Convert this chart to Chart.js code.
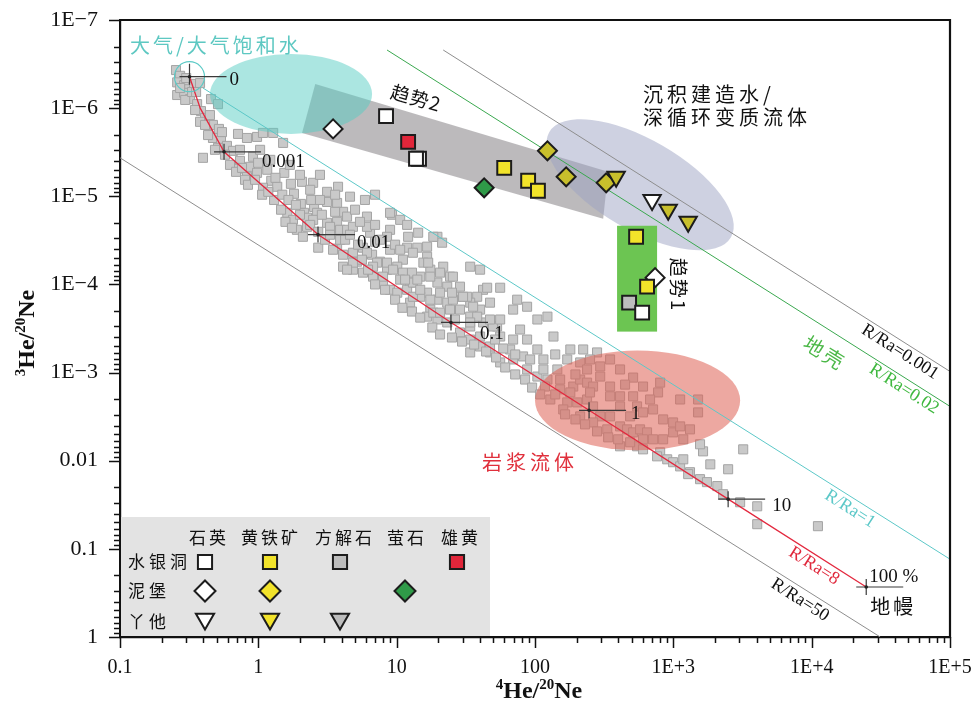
<!DOCTYPE html>
<html><head><meta charset="utf-8">
<script src="https://cdn.jsdelivr.net/npm/chart.js@4.4.0/dist/chart.umd.min.js"></script>
<style>html,body{margin:0;padding:0;background:#fff;}#wrap{width:974px;height:708px;}</style>
</head><body><div id="wrap"><canvas id="c" width="974" height="708"></canvas></div>
<script>
// ---------- DATA ----------
const xTickLabels = ['0.1','1','10','100','1E+3','1E+4','1E+5'];
const yTickLabels = ['1E\u22127','1E\u22126','1E\u22125','1E\u22124','1E\u22123','0.01','0.1','1'];

// gray squares: published fluid data [4He/20Ne, 3He/20Ne]
const graySamples = [
[0.254,3.7e-7],[0.272,4.3e-7],[0.259,5.1e-7],[0.291,5.5e-7],[0.316,6.1e-7],[0.343,5.3e-7],[0.379,5.2e-7],[0.259,7.1e-7],[0.291,6.7e-7],[0.321,7.9e-7],
[0.361,9.0e-7],[0.385,1.08e-6],[0.412,1.29e-6],[0.379,1.43e-6],[0.455,7.9e-7],[0.511,9.0e-7],[0.47,1.55e-6],[0.519,1.72e-6],[0.47,2.18e-6],[0.537,2.35e-6],
[0.398,3.66e-6],[0.511,2.82e-6],[0.593,2.68e-6],[0.656,3.05e-6],[0.713,1.96e-6],[0.828,2.18e-6],[0.979,2.12e-6],[1.08,1.91e-6],[1.28,1.91e-6],[1.51,2.48e-6],
[0.737,3.96e-6],[0.915,3.56e-6],[0.871,4.63e-6],[0.828,6.0e-6],[0.979,5.42e-6],[1.16,5.0e-6],[1.24,6.67e-6],[1.08,8.0e-6],[1.37,7.8e-6],[1.30,1.10e-5],
[1.54,5.42e-6],[1.72,7.22e-6],[1.81,9.37e-6],[2.03,1.22e-5],[1.62,1.54e-5],[1.46,1.42e-5],[2.14,1.54e-5],[2.53,1.32e-5],[2.41,1.10e-5],[0.546,1.87e-6],
[0.701,4.88e-6],[0.801,6.5e-6],[0.996,4.17e-6],[2.07,6.85e-6],[2.49,7.03e-6],[3.14,8.9e-6],[3.77,7.8e-6],[4.60,1.01e-5],[5.90,1.10e-5],[6.98,9.6e-6],
[3.14,1.16e-5],[3.71,1.19e-5],[4.10,1.50e-5],[2.66,1.54e-5],[2.25,1.75e-5],[1.90,2.40e-5],[2.25,2.22e-5],[3.14,2.0e-5],[3.71,1.95e-5],[3.90,2.40e-5],
[4.38,1.70e-5],[2.71,3.83e-5],[3.71,3.93e-5],[4.10,4.6e-5],[4.83,4.37e-5],[5.71,3.83e-5],[6.42,2.59e-5],[6.98,3.28e-5],[6.64,4.6e-5],[7.58,5.52e-5],
[9.26,1.62e-5],[10.6,1.85e-5],[11.9,2.11e-5],[8.96,2.40e-5],[12.1,2.88e-5],[14.3,2.59e-5],[11.9,3.83e-5],[14.1,3.83e-5],[16.6,4.85e-5],[19.7,2.88e-5],
[21.3,3.36e-5],[21.7,6.29e-5],[24.3,8.16e-5],[28.7,1.06e-4],[34.0,6.29e-5],[42.1,1.15e-4],[38.2,1.38e-4],[27.3,1.38e-4],[23.2,1.06e-4],[19.7,9.53e-5],
[17.5,6.8e-5],[15.6,5.66e-5],[11.1,5.24e-5],[10.1,6.29e-5],[8.52,6.8e-5],[7.97,9.53e-5],[11.1,7.35e-5],[12.5,9.53e-5],[14.8,8.16e-5],[16.6,1.24e-4],
[19.7,1.49e-4],[23.2,1.61e-4],[28.7,1.93e-4],[34.0,1.61e-4],[40.1,1.93e-4],[17.5,1.93e-4],[16.6,2.32e-4],[19.7,2.5e-4],[23.2,2.7e-4],[4.10,6.29e-5],
[4.83,6.8e-5],[5.71,7.35e-5],[6.75,8.16e-5],[7.22,5.66e-5],[5.17,5.52e-5],[34.0,2.32e-4],[42.1,2.7e-4],[12.5,1.61e-4],[14.8,1.38e-4],[1.78,1.85e-5],
[2.10,2.88e-5],[2.49,1.85e-5],[3.30,2.22e-5],[4.38,2.40e-5],[4.83,2.22e-5],[3.90,3.11e-5],[3.47,4.04e-5],[4.83,5.66e-5],[4.38,6.8e-5],[6.10,4.37e-5],
[8.52,5.66e-5],[6.75,6.29e-5],[7.97,8.16e-5],[9.42,6.8e-5],[10.6,8.82e-5],[8.96,1.15e-4],[10.1,1.24e-4],[11.9,1.15e-4],[13.1,9.53e-5],[17.5,1.49e-4],
[18.4,2.09e-4],[25.5,1.49e-4],[32.3,1.38e-4],[35.7,1.79e-4],[38.2,2.32e-4],[34.0,3.0e-4],[28.7,3.51e-4],[34.0,4.22e-4],[40.1,5.06e-4],[47.3,5.91e-4],
[56.0,7.67e-4],[34.0,5.91e-4],[66.1,5.47e-4],[69.5,4.22e-4],[56.0,3.9e-4],[53.2,3.0e-4],[45.1,1.09e-4],[56.0,1.09e-4],[25.5,8.16e-5],[8.96,1.54e-5],
[18.4,2.88e-5],[16.6,3.73e-5],[13.1,4.37e-5],[8.96,4.04e-5],[8.52,2.88e-5],[6.10,2.22e-5],[6.10,1.70e-5],[12.9,7.35e-5],[14.1,8.82e-5],[17.5,8.16e-5],
[20.6,7.35e-5],[16.9,5.66e-5],[40.1,6.8e-5],[20.6,1.24e-4],[25.1,1.24e-4],[30.2,1.38e-4],[13.1,1.38e-4],[20.6,2.09e-4],[47.3,1.61e-4],[34.0,2.7e-4],
[40.1,3.9e-4],[49.7,3.0e-4],[69.5,1.93e-4],[74.3,1.49e-4],[87.7,1.79e-4],[104,2.5e-4],[123,2.32e-4],[136,3.9e-4],[87.7,4.22e-4],[58.9,5.33e-4],
[47.3,5.06e-4],[69.5,7.1e-4],[82.0,6.56e-4],[104,5.47e-4],[115,7.1e-4],[87.7,9.22e-4],[104,1.11e-3],[123,1.2e-3],[145,9.22e-4],[171,7.1e-4],
[180,5.47e-4],[212,7.67e-4],[238,9.22e-4],[152,1.55e-3],[189,1.44e-3],[212,1.2e-3],[238,1.3e-3],[129,2.02e-3],[171,2.18e-3],[202,2.18e-3],
[238,2.02e-3],[263,2.42e-3],[296,3.14e-3],[349,3.14e-3],[412,4.08e-3],[463,4.41e-3],[512,4.77e-3],[575,4.41e-3],[646,4.77e-3],[714,5.72e-3],
[547,6.86e-3],[604,7.43e-3],[803,8.03e-3],[903,9.64e-3],[996,1.04e-2],[1120,1.16e-2],[1320,1.35e-2],[1560,1.62e-2],[1750,1.75e-2],[2080,1.94e-2],
[263,1.44e-3],[296,1.11e-3],[349,1.44e-3],[412,1.86e-3],[512,1.86e-3],[547,2.42e-3],[714,2.62e-3],[844,3.4e-3],[996,3.68e-3],[996,4.77e-3],
[1180,5.72e-3],[803,1.3e-3],[776,1.68e-3],[1120,2.02e-3],[1510,2.02e-3],[1510,2.83e-3],[296,8.52e-4],[412,9.22e-4],[512,1.14e-3],[604,1.44e-3],
[281,5.91e-4],[223,5.47e-4],[412,6.86e-3],[487,6.18e-3],[1640,7.83e-3],[3200,7.43e-3],[2490,1.25e-2],[115,9.22e-4],[118,1.44e-3],[180,1.68e-3],
[250,1.68e-3],[349,1.86e-3],[412,2.42e-3],[487,3.14e-3],[604,2.83e-3],[1120,4.08e-3],[844,5.72e-3],[160,2.62e-3],[212,3.14e-3],[263,3.68e-3],
[333,4.41e-3],[604,5.72e-3],[763,8.92e-3],[1180,9.64e-3],[2290,2.4e-2],[3040,2.96e-2],[4040,3.29e-2],[4040,5.25e-2],[11100,5.53e-2],[1280,1.42e-2],
[0.624,4.4e-6],[0.69,5.28e-6],[0.762,4.76e-6],[0.842,7.4e-6],[0.947,6.5e-6],[1.065,9.6e-6],[1.18,8.9e-6],[1.33,6.17e-6],[1.49,9.6e-6],[1.65,1.10e-5],
[1.87,1.25e-5],[2.0,1.62e-5],[1.57,1.95e-5],[1.75,2.28e-5],[2.37,2.11e-5],[2.71,2.53e-5],[3.03,3.11e-5],[3.30,2.73e-5],[2.88,1.62e-5],[3.59,1.50e-5],
[4.24,3.11e-5],[4.6,2.73e-5],[5.26,3.54e-5],[5.61,5.24e-5],[6.21,6.8e-5],[6.98,1.0e-4],[8.24,1.15e-4],[9.74,1.49e-4],[11.0,1.84e-4],[12.9,2.03e-4],
[14.8,2.38e-4],[18.1,3.08e-4],[20.6,3.7e-4],[25.1,4.0e-4],[29.7,4.45e-4],[36.3,4.81e-4],[44.3,5.77e-4],[52.3,6.74e-4],[60.9,8.75e-4],[71.9,1.05e-3],
[84.8,1.2e-3],[95.3,1.48e-3],[109,1.77e-3],[140,1.77e-3],[165,2.98e-3],[196,3.4e-3],[230,3.87e-3],[281,4.65e-3],[338,5.43e-3],[399,5.72e-3],
[0.574,3.38e-6],[0.486,2.97e-6],[0.433,2.02e-6],[0.412,1.55e-6],[0.447,1.2e-6],[0.349,1.05e-6],[0.296,8.07e-7],[0.332,6.56e-7],[0.272,5.91e-7],[0.301,4.55e-7],
[0.355,6.56e-7],[0.737,2.97e-6],[1.03,2.97e-6],[1.22,3.86e-6],[1.69,4.4e-6],[2.0,5.71e-6],[2.79,5.71e-6],[2.37,8.44e-6],[2.79,1.10e-5],[3.59,9.6e-6],
[5.0,1.42e-5],[5.43,1.95e-5],[6.98,2.11e-5],[7.58,3.11e-5],[9.74,3.54e-5],[10.6,4.04e-5],[11.5,8.82e-5],[14.8,1.15e-4],[24.3,1.93e-4],[26.4,2.5e-4],
[47.3,2.5e-4],[56.0,2.5e-4],[78.0,3.25e-4],[51.4,4.22e-4],[71.9,6.23e-4],[92.2,7.1e-4],[140,6.23e-4],[152,1.2e-3],[196,1.05e-3],[250,7.1e-4],
[349,7.1e-4],[448,1.37e-3],[679,2.02e-3],[1320,4.41e-3],[1560,6.51e-3],[1850,1.10e-2]
];

// 水银洞
const sydQuartz = [[14.5,3.75e-6],[13.8,3.75e-6],[8.38,1.23e-6],[595,2.09e-4]];
const sydPyrite = [[59.9,4.76e-6],[89.2,6.67e-6],[105,8.66e-6],[538,2.88e-5],[646,1.06e-4]];
const sydCalcite = [[479,1.61e-4]];
const sydRealgar = [[12.1,2.41e-6]];
// 泥堡
const nbQuartz = [[3.47,1.72e-6],[738,8.38e-5]];
const nbPyrite = [[123,3.05e-6],[168,6.01e-6],[327,7.03e-6]];
const nbFluorite = [[42.9,8.01e-6]];
// 丫他
const otQuartz = [[702,1.10e-5]];
const otPyrite = [[386,6.01e-6],[918,1.42e-5],[1280,1.95e-5]];

// air - mantle mixing curve and its marks
const mixX = [0.318, 0.38, 0.565, 2.70, 24.7, 246, 2490, 24800];
const mixY = [4.4e-7, 1.0e-6, 3.13e-6, 2.72e-5, 2.70e-4, 2.68e-3, 0.0273, 0.271];
const markX = [0.318, 0.565, 2.70, 24.7, 246, 2490, 24800];
const markY = [4.4e-7, 3.13e-6, 2.72e-5, 2.70e-4, 2.68e-3, 0.0273, 0.271];
const markLabels = ['0','0.001','0.01','0.1','1','10'];

// R/Ra reference lines (end points)
const rra0001X = [21.7, 1e5],  rra0001Y = [2.19e-7, 9.72e-4];
const rra002X  = [8.52, 1e5],  rra002Y  = [2.19e-7, 2.42e-3];
const rra1X    = [0.398, 1e5], rra1Y    = [5.91e-7, 0.131];
const rra50X   = [0.1, 31300], rra50Y   = [3.66e-6, 1];

// field outlines (data space)
const bandX = [2.58, 338, 311, 2.07];
const bandY = [5.33e-7, 5.28e-6, 1.80e-5, 1.91e-6];
const airFieldX = [0.447, 6.64], airFieldY = [2.43e-7, 1.96e-6];
const magmaFieldX = [100, 3040], magmaFieldY = [5.62e-4, 7.62e-3];
const sedFieldCenter = [575, 7.40e-6], sedFieldAxisEnd = [2610, 2.92e-5];
const trend1X = [392, 763], trend1Y = [2.16e-5, 3.43e-4];

// ---------- CHART ----------
const toXY = (xs, ys) => xs.map((x, i) => ({x, y: ys[i]}));
const pairs = a => a.map(p => ({x: p[0], y: p[1]}));
const SERIF = '"Liberation Serif","Times New Roman",serif';
const CJK = '"Noto Sans CJK SC","Noto Sans",sans-serif';
const C = {white:'#ffffff', yellow:'#f2e32a', olive:'#c8bf2c', gray:'#bdbdbd', red:'#e1263a', green:'#2f9a48', edge:'#1c1c1c'};

function logTicks(lo, hi) {
  const t = [];
  for (let e = lo; e < hi; e++) for (let m = 1; m < 10; m++) t.push({value: m * Math.pow(10, e)});
  t.push({value: Math.pow(10, hi)});
  return t;
}
function labelFor(v, labels, off) {
  const e = Math.round(Math.log10(v));
  if (Math.abs(v / Math.pow(10, e) - 1) < 1e-6) return labels[e + off] || '';
  return '';
}
function mk(data, style, fill, order, r, rot) {
  return {data: pairs(data), pointStyle: style, rotation: rot || 0, pointRadius: r, backgroundColor: fill,
    borderColor: C.edge, borderWidth: 2, order};
}
function lineSet(xs, ys, color, w, order) {
  return {data: toXY(xs, ys), showLine: true, pointRadius: 0, borderColor: color, borderWidth: w, fill: false, order};
}
function noPad(s) { s.paddingLeft = 0; s.paddingRight = 0; s.paddingTop = 0; s.paddingBottom = 0; }

function shape(ctx, style, x, y, r) {
  ctx.beginPath();
  if (style === 'rect') { const s = r * Math.SQRT1_2; ctx.rect(x - s, y - s, 2 * s, 2 * s); }
  else if (style === 'rectRot') { ctx.moveTo(x, y - r); ctx.lineTo(x + r, y); ctx.lineTo(x, y + r); ctx.lineTo(x - r, y); ctx.closePath(); }
  else { ctx.moveTo(x, y + r); ctx.lineTo(x - r * 0.866, y - r / 2); ctx.lineTo(x + r * 0.866, y - r / 2); ctx.closePath(); }
}
function txt(ctx, s, x, y, o) {
  ctx.save();
  ctx.translate(x, y);
  if (o.rot) ctx.rotate(o.rot * Math.PI / 180);
  ctx.font = o.font; ctx.fillStyle = o.color || '#111';
  ctx.textAlign = o.align || 'left'; ctx.textBaseline = 'middle';
  try { ctx.letterSpacing = (o.ls || 0) + 'px'; } catch (e) {}
  ctx.fillText(s, 0, 0);
  ctx.restore();
}
function supText(ctx, parts, cx, cy, rot) {
  const big = 'bold 24px ' + SERIF, small = 'bold 15px ' + SERIF;
  ctx.save();
  ctx.translate(cx, cy); if (rot) ctx.rotate(rot * Math.PI / 180);
  let w = 0;
  parts.forEach(p => { ctx.font = p[1] ? small : big; w += ctx.measureText(p[0]).width; });
  let x = -w / 2;
  ctx.fillStyle = '#111'; ctx.textBaseline = 'alphabetic'; ctx.textAlign = 'left';
  parts.forEach(p => { ctx.font = p[1] ? small : big; ctx.fillText(p[0], x, p[1] ? -1 : 8); x += ctx.measureText(p[0]).width; });
  ctx.restore();
}

const decor = {
  id: 'decor',
  beforeDatasetsDraw(chart) {
    const ctx = chart.ctx, a = chart.chartArea;
    ctx.save();
    ctx.fillStyle = '#e3e3e3';
    ctx.fillRect(a.left + 1, 517, 490 - a.left - 1, a.bottom - 518);
    const f = '17px ' + CJK;
    [['石英',209],['黄铁矿',271],['方解石',345],['萤石',407],['雄黄',461]].forEach(h => txt(ctx, h[0], h[1], 538, {font: f, align: 'center', ls: 3}));
    [['水银洞',562],['泥堡',591],['丫他',622]].forEach(h => txt(ctx, h[0], 128, h[1], {font: f, ls: 4}));
    const items = [
      ['rect',205,562,C.white],['rect',270,562,C.yellow],['rect',340,562,C.gray],['rect',457,562,C.red],
      ['rectRot',205,591,C.white],['rectRot',270,591,C.yellow],['rectRot',405,591,C.green],
      ['tri',205,619,C.white],['tri',270,619,C.yellow],['tri',340,619,C.gray]];
    items.forEach(it => {
      shape(ctx, it[0], it[1], it[2], it[0] === 'rect' ? 10 : 10.5);
      ctx.fillStyle = it[3]; ctx.fill(); ctx.lineWidth = 2; ctx.strokeStyle = C.edge; ctx.stroke();
    });
    ctx.restore();
  },
  afterDatasetDraw(chart, args) {
    if (chart.data.datasets[args.index].id !== 'gray') return;
    const ctx = chart.ctx, X = chart.scales.x, Y = chart.scales.y;
    ctx.save();
    ctx.beginPath();
    bandX.forEach((x, i) => { const p = [X.getPixelForValue(x), Y.getPixelForValue(bandY[i])]; i ? ctx.lineTo(p[0], p[1]) : ctx.moveTo(p[0], p[1]); });
    ctx.closePath(); ctx.fillStyle = 'rgba(122,118,122,0.5)'; ctx.fill();
    const ell = (xs, ys, col) => {
      const x0 = X.getPixelForValue(xs[0]), x1 = X.getPixelForValue(xs[1]);
      const y0 = Y.getPixelForValue(ys[0]), y1 = Y.getPixelForValue(ys[1]);
      ctx.beginPath(); ctx.ellipse((x0 + x1) / 2, (y0 + y1) / 2, Math.abs(x1 - x0) / 2, Math.abs(y1 - y0) / 2, 0, 0, Math.PI * 2);
      ctx.fillStyle = col; ctx.fill();
    };
    ell(airFieldX, airFieldY, 'rgba(88,205,196,0.5)');
    const cx = X.getPixelForValue(sedFieldCenter[0]), cy = Y.getPixelForValue(sedFieldCenter[1]);
    const ex = X.getPixelForValue(sedFieldAxisEnd[0]), ey = Y.getPixelForValue(sedFieldAxisEnd[1]);
    const ra = Math.hypot(ex - cx, ey - cy), ang = Math.atan2(ey - cy, ex - cx);
    ctx.beginPath(); ctx.ellipse(cx, cy, ra, ra * 0.43, ang, 0, Math.PI * 2);
    ctx.fillStyle = 'rgba(158,163,196,0.5)'; ctx.fill();
    ell(magmaFieldX, magmaFieldY, 'rgba(222,96,84,0.55)');
    const gx0 = X.getPixelForValue(trend1X[0]), gx1 = X.getPixelForValue(trend1X[1]);
    const gy0 = Y.getPixelForValue(trend1Y[0]), gy1 = Y.getPixelForValue(trend1Y[1]);
    ctx.fillStyle = '#6cc552'; ctx.fillRect(gx0, gy0, gx1 - gx0, gy1 - gy0);
    ctx.restore();
  },
  afterDatasetsDraw(chart) {
    const ctx = chart.ctx, X = chart.scales.x, Y = chart.scales.y;
    ctx.save();
    const ax = X.getPixelForValue(markX[0]), ay = Y.getPixelForValue(markY[0]);
    ctx.beginPath(); ctx.arc(ax, ay, 15, 0, Math.PI * 2); ctx.strokeStyle = '#5ccac6'; ctx.lineWidth = 1.2; ctx.stroke();
    const offs = [[40,3],[38,10],[39,8],[29,12],[42,4],[44,7]];
    markX.forEach((mx, i) => {
      const x = X.getPixelForValue(mx), y = Y.getPixelForValue(markY[i]);
      ctx.strokeStyle = '#3a3a3a'; ctx.lineWidth = 1.2;
      ctx.beginPath(); ctx.moveTo(x - 10, y); ctx.lineTo(x + 37, y);
      ctx.moveTo(x, y - (i === 0 ? 13 : 8)); ctx.lineTo(x, y + 8); ctx.stroke();
      ctx.beginPath(); ctx.arc(x, y, 1.8, 0, Math.PI * 2); ctx.fillStyle = '#222'; ctx.fill();
      if (i < markLabels.length) txt(ctx, markLabels[i], x + offs[i][0], y + offs[i][1], {font: '19px ' + SERIF});
      else { txt(ctx, '100 %', x + 3, y - 10, {font: '19px ' + SERIF}); txt(ctx, '地幔', x + 4, y + 19, {font: '20px ' + CJK, ls: 3}); }
    });
    const cj = '20px ' + CJK, sr = '18px ' + SERIF;
    txt(ctx, '大气/大气饱和水', 130, 45, {font: cj, color: '#5ec8c2', ls: 3});
    txt(ctx, '趋势2', 416, 98, {font: '19px ' + CJK, rot: 16, align: 'center', ls: 1});
    txt(ctx, '沉积建造水/', 643, 94, {font: cj, ls: 4});
    txt(ctx, '深循环变质流体', 643, 117, {font: cj, ls: 4});
    txt(ctx, '趋势1', 678, 285, {font: '19px ' + CJK, rot: 90, align: 'center', ls: 2});
    txt(ctx, '地壳', 825, 353, {font: cj, rot: 32, align: 'center', color: '#4cb848', ls: 3});
    txt(ctx, '岩浆流体', 482, 462, {font: cj, color: '#e0303c', ls: 4});
    const rot = 32.5;
    txt(ctx, 'R/Ra=0.001', 900, 352, {font: sr, rot, align: 'center', color: '#111'});
    txt(ctx, 'R/Ra=0.02', 904, 389, {font: sr, rot, align: 'center', color: '#3fb83f'});
    txt(ctx, 'R/Ra=1', 850, 509, {font: sr, rot, align: 'center', color: '#5cc8c8'});
    txt(ctx, 'R/Ra=8', 814, 566, {font: sr, rot, align: 'center', color: '#e0283c'});
    txt(ctx, 'R/Ra=50', 800, 600, {font: sr, rot, align: 'center', color: '#111'});
    ctx.restore();
  },
  afterDraw(chart) {
    const ctx = chart.ctx, a = chart.chartArea, X = chart.scales.x, Y = chart.scales.y;
    ctx.save();
    ctx.strokeStyle = '#111'; ctx.lineWidth = 1.5;
    const isMajor = v => Math.abs(Math.log10(v) - Math.round(Math.log10(v))) < 1e-6;
    X.ticks.forEach(t => { const p = Math.round(X.getPixelForValue(t.value)) + 0.5; const l = isMajor(t.value) ? 11 : 6;
      ctx.beginPath(); ctx.moveTo(p, a.bottom); ctx.lineTo(p, a.bottom + l); ctx.stroke(); });
    Y.ticks.forEach(t => { const p = Math.round(Y.getPixelForValue(t.value)) + 0.5; const l = isMajor(t.value) ? 11 : 6;
      ctx.beginPath(); ctx.moveTo(a.left, p); ctx.lineTo(a.left - l, p); ctx.stroke(); });
    ctx.lineWidth = 2.2;
    ctx.beginPath(); ctx.moveTo(a.left - 1, a.top); ctx.lineTo(a.right, a.top); ctx.lineTo(a.right, a.bottom + 1); ctx.stroke();
    supText(ctx, [['4',1],['He/',0],['20',1],['Ne',0]], 539, 690, 0);
    supText(ctx, [['3',1],['He/',0],['20',1],['Ne',0]], 26, 333, -90);
    ctx.restore();
  }
};

new Chart(document.getElementById('c'), {
  type: 'scatter',
  data: {
    datasets: [
      {id: 'gray', data: pairs(graySamples), pointStyle: 'rect', pointRadius: 6.4,
        backgroundColor: '#c9c9c9', borderColor: '#a4a4a4', borderWidth: 1, order: 100},
      lineSet(rra0001X, rra0001Y, '#8e8e8e', 1, 50),
      lineSet(rra002X, rra002Y, '#3aa84f', 1, 50),
      lineSet(rra1X, rra1Y, '#5cc8c8', 1, 50),
      lineSet(rra50X, rra50Y, '#8e8e8e', 1, 50),
      lineSet(mixX, mixY, '#e3283e', 1.3, 49),
      mk(nbQuartz, 'rectRot', C.white, 9, 9.5),
      mk(nbPyrite, 'rectRot', C.olive, 8, 9.5),
      mk(nbFluorite, 'rectRot', C.green, 7, 9.5),
      mk(sydCalcite, 'rect', C.gray, 6, 9.8),
      mk(sydQuartz, 'rect', C.white, 5, 9.8),
      mk(sydPyrite, 'rect', C.yellow, 4, 9.8),
      mk(sydRealgar, 'rect', C.red, 3, 9.8),
      mk(otQuartz, 'triangle', C.white, 2, 10, 180),
      mk(otPyrite, 'triangle', C.olive, 1, 10, 180)
    ]
  },
  options: {
    responsive: false, animation: false, devicePixelRatio: 1, events: [],
    layout: {padding: {left: 0, right: 24, top: 20, bottom: 0}},
    plugins: {legend: {display: false}, tooltip: {enabled: false}},
    scales: {
      x: {type: 'logarithmic', min: 0.1, max: 1e5, position: 'bottom',
        grid: {display: false, drawTicks: false}, border: {display: true, color: '#111', width: 2.2},
        ticks: {autoSkip: false, maxRotation: 0, padding: 19, color: '#111', font: {family: SERIF, size: 20},
          callback: v => labelFor(v, xTickLabels, 1)},
        afterBuildTicks: s => { s.ticks = logTicks(-1, 5); },
        afterFit: s => { s.height = 71; noPad(s); }},
      y: {type: 'logarithmic', min: 1e-7, max: 1, reverse: true, position: 'left',
        grid: {display: false, drawTicks: false}, border: {display: true, color: '#111', width: 2.2},
        ticks: {autoSkip: false, padding: 22, color: '#111', font: {family: SERIF, size: 22},
          callback: v => labelFor(v, yTickLabels, 7)},
        afterBuildTicks: s => { s.ticks = logTicks(-7, 0); },
        afterFit: s => { s.width = 120; noPad(s); }}
    }
  },
  plugins: [decor]
});
</script></body></html>
